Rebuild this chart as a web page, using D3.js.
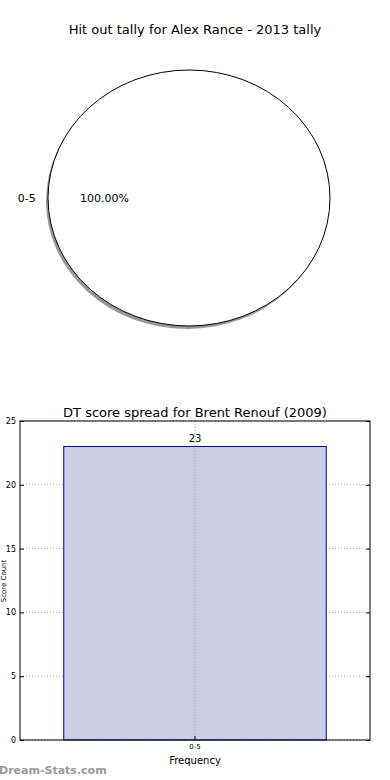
<!DOCTYPE html>
<html>
<head>
<meta charset="utf-8">
<script src="https://cdn.jsdelivr.net/npm/d3@7"></script>
<style>
  body { margin: 0; background: #fff; }
  svg { display: block; font-family: "DejaVu Sans", sans-serif; }
</style>
</head>
<body>
<svg width="390" height="780"></svg>
<script>
var pieLabels = ["0-5"];
var pieValues = [1];
var barCats = ["0-5"];
var barValues = [23];
var yTicks = [0, 5, 10, 15, 20, 25];

var svg = d3.select("svg");

// pie chart (single slice, squashed like the original)
svg.append("text")
  .attr("x", 195).attr("y", 34)
  .attr("text-anchor", "middle")
  .attr("font-size", 13)
  .text("Hit out tally for Alex Rance - 2013 tally");

var cx = 189, cy = 198, rx = 141, ry = 128;
var pie = d3.pie().sort(null).value(function(d) { return d; });
var arcs = pie(pieValues);
var arc = d3.arc().innerRadius(0).outerRadius(1);
var total = d3.sum(pieValues);

// shadow
var shadow = svg.append("g")
  .attr("transform", "translate(" + (cx - 2) + "," + (cy + 3) + ") scale(" + rx + "," + ry + ")");
shadow.selectAll("path").data(arcs).enter().append("path")
  .attr("d", arc)
  .attr("fill", "#999");

var pg = svg.append("g")
  .attr("transform", "translate(" + cx + "," + cy + ") scale(" + rx + "," + ry + ")");
pg.selectAll("path").data(arcs).enter().append("path")
  .attr("d", arc)
  .attr("fill", "#fff")
  .attr("stroke", "#000")
  .attr("stroke-width", 1)
  .attr("vector-effect", "non-scaling-stroke");

arcs.forEach(function(a, i) {
  // original starts at 90deg, so a single slice sits on the left
  var mid = (a.startAngle + a.endAngle) / 2 + Math.PI / 2;
  svg.append("text")
    .attr("x", cx + Math.sin(mid) * rx * 1.15)
    .attr("y", cy - Math.cos(mid) * ry * 1.15 + 4)
    .attr("text-anchor", "middle")
    .attr("font-size", 11)
    .text(pieLabels[i]);
  svg.append("text")
    .attr("x", cx + Math.sin(mid) * rx * 0.6)
    .attr("y", cy - Math.cos(mid) * ry * 0.6 + 4)
    .attr("text-anchor", "middle")
    .attr("font-size", 11)
    .text(d3.format(".2f")(pieValues[i] / total * 100) + "%");
});

// bar chart
var m = { left: 20, right: 370, top: 421, bottom: 740 };

svg.append("text")
  .attr("x", 195).attr("y", 417)
  .attr("text-anchor", "middle")
  .attr("font-size", 13)
  .text("DT score spread for Brent Renouf (2009)");

var x = d3.scaleBand().domain(barCats).range([m.left, m.right])
  .paddingInner(0.25).paddingOuter(0.125);
var y = d3.scaleLinear().domain([0, 25]).range([m.bottom, m.top]);

// grid
svg.append("g").selectAll("line").data(yTicks).enter().append("line")
  .attr("x1", m.left).attr("x2", m.right)
  .attr("y1", function(d) { return y(d); }).attr("y2", function(d) { return y(d); })
  .attr("stroke", "#aaa").attr("stroke-dasharray", "1,2");

svg.selectAll(".bar").data(barValues).enter().append("rect")
  .attr("class", "bar")
  .attr("x", function(d, i) { return x(barCats[i]); })
  .attr("y", function(d) { return y(d); })
  .attr("width", x.bandwidth())
  .attr("height", function(d) { return y(0) - y(d); })
  .attr("fill", "#cccce5")
  .attr("stroke", "#00008b")
  .attr("stroke-width", 1);

svg.append("g").selectAll("line").data(barCats).enter().append("line")
  .attr("x1", function(d) { return x(d) + x.bandwidth() / 2; })
  .attr("x2", function(d) { return x(d) + x.bandwidth() / 2; })
  .attr("y1", m.top).attr("y2", m.bottom)
  .attr("stroke", "#aaa").attr("stroke-dasharray", "1,2");

svg.selectAll(".val").data(barValues).enter().append("text")
  .attr("x", function(d, i) { return x(barCats[i]) + x.bandwidth() / 2; })
  .attr("y", function(d) { return y(d) - 5; })
  .attr("text-anchor", "middle")
  .attr("font-size", 10)
  .text(function(d) { return d; });

// frame
svg.append("rect")
  .attr("x", m.left).attr("y", m.top)
  .attr("width", m.right - m.left).attr("height", m.bottom - m.top)
  .attr("fill", "none").attr("stroke", "#000");

var yAxis = svg.append("g")
  .attr("transform", "translate(" + m.left + ",0)")
  .call(d3.axisLeft(y).tickValues(yTicks).tickSize(-4).tickPadding(4));
yAxis.select(".domain").remove();
yAxis.selectAll("text").attr("font-size", 8).attr("font-family", "DejaVu Sans, sans-serif");

var yAxisR = svg.append("g")
  .attr("transform", "translate(" + m.right + ",0)")
  .call(d3.axisRight(y).tickValues(yTicks).tickSize(-4).tickFormat(""));
yAxisR.select(".domain").remove();

var xAxis = svg.append("g")
  .attr("transform", "translate(0," + m.bottom + ")")
  .call(d3.axisBottom(x).tickSize(-4).tickPadding(4));
xAxis.select(".domain").remove();
xAxis.selectAll("text").attr("font-size", 7).attr("font-family", "DejaVu Sans, sans-serif");

svg.append("text")
  .attr("x", 195).attr("y", 764)
  .attr("text-anchor", "middle")
  .attr("font-size", 10)
  .text("Frequency");

svg.append("text")
  .attr("transform", "translate(6,581) rotate(-90)")
  .attr("text-anchor", "middle")
  .attr("font-size", 7)
  .attr("fill", "#000")
  .text("Score Count");

svg.append("text")
  .attr("x", -1).attr("y", 774)
  .attr("font-size", 11)
  .attr("font-weight", "bold")
  .attr("fill", "#999")
  .text("Dream-Stats.com");
</script>
</body>
</html>
